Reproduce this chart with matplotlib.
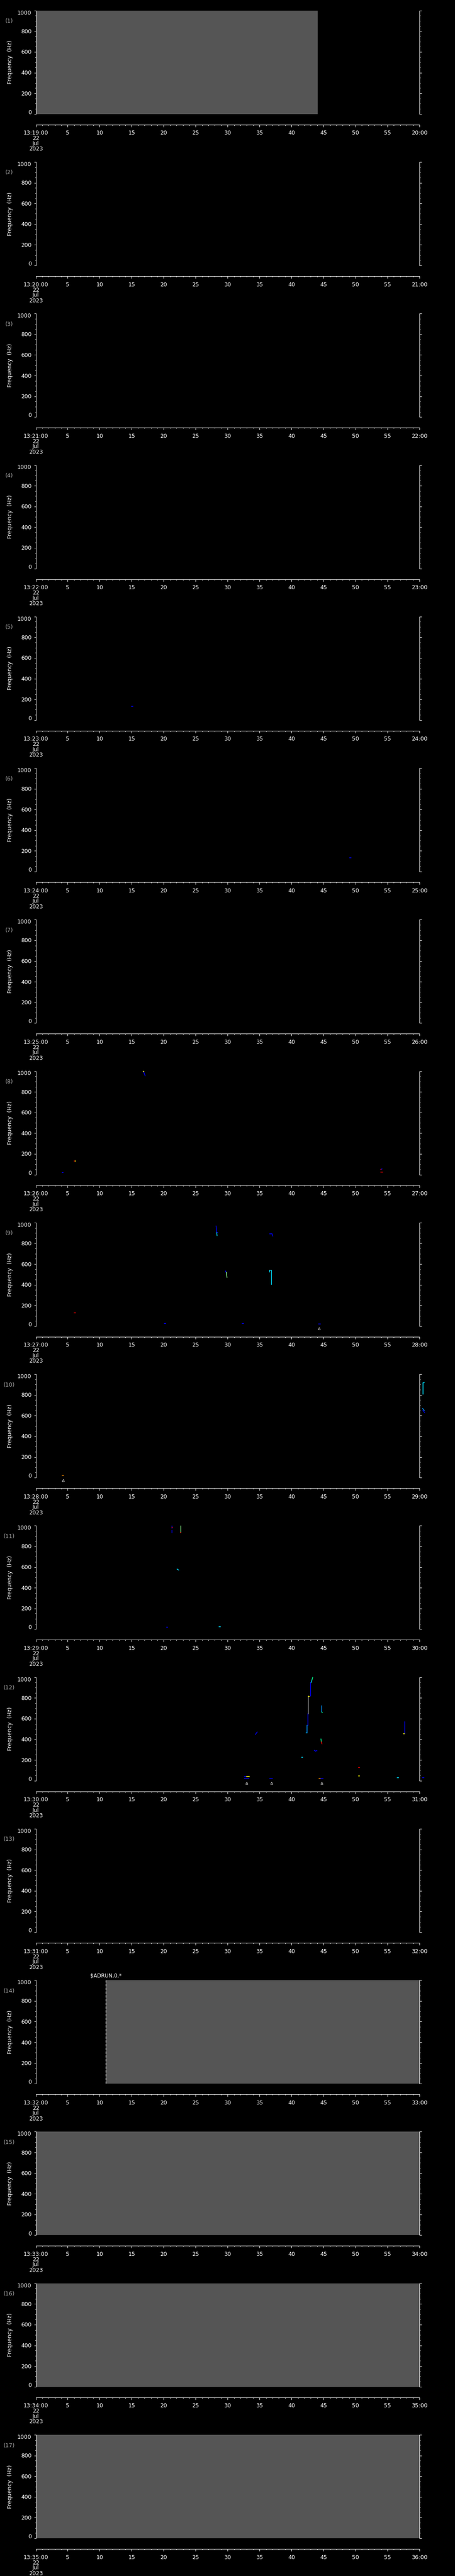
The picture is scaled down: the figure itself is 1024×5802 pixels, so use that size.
import matplotlib
matplotlib.use('Agg')
import matplotlib.pyplot as plt
from matplotlib.ticker import MultipleLocator, FixedLocator
from matplotlib.transforms import blended_transform_factory, ScaledTranslation

# ---------------- data ----------------
panel_start_labels = ["13:19:00", "13:20:00", "13:21:00", "13:22:00", "13:23:00", "13:24:00",
                      "13:25:00", "13:26:00", "13:27:00", "13:28:00", "13:29:00", "13:30:00",
                      "13:31:00", "13:32:00", "13:33:00", "13:34:00", "13:35:00"]
panel_end_labels = ["20:00", "21:00", "22:00", "23:00", "24:00", "25:00", "26:00", "27:00",
                    "28:00", "29:00", "30:00", "31:00", "32:00", "33:00", "34:00", "35:00", "36:00"]
date_lines = ["22", "Jul", "2023"]
time_major = [0, 5, 10, 15, 20, 25, 30, 35, 40, 45, 50, 55, 60]
time_mid_labels = ["5", "10", "15", "20", "25", "30", "35", "40", "45", "50", "55"]
freq_ticks = [0, 200, 400, 600, 800, 1000]
freq_labels = ["0", "200", "400", "600", "800", "1000"]

# grey "no data" spans
gap_panel = [1, 14, 15, 16, 17]
gap_t0 = [0.0, 10.94, 0.0, 0.0, 0.0]
gap_t1 = [44.1, 60.0, 60.0, 60.0, 60.0]

# event marker
event_panel = 14
event_t = 10.94
event_label = "$ADRUN,0,*"

# triangle markers under the axis
tri_panel = [9, 10, 12, 12, 12]
tri_t = [44.33, 4.3, 32.97, 36.84, 44.69]

# spectrogram traces (panel, t0, f0, t1, f1, colour)
seg_panel = [5, 6,
             8, 8, 8, 8, 8, 8, 8, 8,
             9, 9, 9, 9, 9, 9, 9, 9, 9, 9, 9, 9, 9, 9,
             10, 10, 10, 10, 10,
             11, 11, 11, 11, 11, 11, 11, 11,
             12, 12, 12, 12, 12, 12, 12, 12, 12, 12, 12, 12, 12, 12, 12, 12, 12, 12,
             12, 12, 12, 12, 12, 12, 12, 12, 12, 12, 12, 12]
seg_t0 = [15.0, 49.1,
          16.85, 16.8, 6.0, 6.12, 4.1, 53.95, 54.05, 53.95,
          28.2, 28.3, 28.38, 36.55, 36.95, 29.67, 29.8, 36.6, 36.6, 36.85, 6.0, 20.1, 32.25, 44.2,
          60.55, 60.55, 60.5, 60.55, 4.15,
          21.33, 21.28, 21.33, 22.68, 22.6, 22.1, 20.45, 28.65,
          34.35, 42.28, 42.42, 42.56, 42.65, 42.65, 42.96, 43.05, 43.2, 44.72, 44.72, 44.6, 44.65, 43.56,
          43.75, 41.6, 50.5, 57.7, 57.5, 32.6, 33.0, 32.65, 36.6, 44.3, 44.6, 50.5, 56.5, 60.5]
seg_f0 = [132, 135,
          997, 999, 130, 130, 20, 50, 52, 24,
          968, 905, 905, 891, 891, 533, 520, 542, 542, 542, 127, 24, 24, 20,
          806, 916, 668, 650, 22,
          996, 985, 955, 996, 932, 581, 18, 23,
          447, 462, 462, 533, 648, 815, 819, 948, 975, 722, 664, 403, 375, 293,
          287, 225, 126, 569, 452, 40, 40, 19, 19, 19, 19, 46, 29, 29]
seg_t1 = [15.2, 49.3,
          17.1, 16.9, 6.12, 6.25, 4.25, 54.05, 54.15, 54.2,
          28.3, 28.35, 28.42, 36.95, 37.07, 29.75, 29.9, 36.75, 36.6, 36.85, 6.2, 20.3, 32.45, 44.5,
          60.55, 60.75, 60.75, 60.8, 4.35,
          21.33, 21.38, 21.33, 22.68, 22.7, 22.35, 20.6, 28.9,
          34.62, 42.42, 42.42, 42.56, 42.65, 42.79, 42.96, 43.2, 43.3, 44.72, 44.82, 44.65, 44.75, 43.75,
          43.97, 41.75, 50.65, 57.7, 57.65, 33.0, 33.4, 33.3, 37.0, 44.6, 44.9, 50.65, 56.75, 60.7]
seg_f1 = [132, 135,
          955, 997, 130, 130, 20, 52, 55, 24,
          905, 875, 905, 891, 870, 520, 471, 542, 522, 404, 127, 24, 24, 20,
          916, 920, 650, 630, 22,
          975, 985, 935, 935, 932, 571, 18, 23,
          470, 462, 533, 648, 819, 815, 948, 975, 998, 664, 660, 375, 356, 285,
          290, 225, 126, 455, 452, 40, 40, 19, 19, 19, 19, 46, 29, 29]
seg_color = ["blue", "blue",
             "blue", "yellow", "red", "yellow", "blue", "red", "blue", "red",
             "blue", "cyan", "blue", "blue", "blue", "blue", "lightgreen", "cyan", "cyan", "cyan", "red", "blue", "blue", "blue",
             "cyan", "cyan", "sky", "blue", "orange",
             "blue", "red", "blue", "lightgreen", "red", "cyan", "blue", "cyan",
             "blue", "cyan", "sky", "blue", "gray", "yellow", "blue", "cyan", "green", "sky", "green", "green", "red", "blue",
             "blue", "cyan", "red", "blue", "yellow", "blue", "yellow", "blue", "blue", "orange", "blue", "yellow", "cyan", "blue"]

palette = {"blue": "#0000ff", "sky": "#0090ff", "cyan": "#00e0ff", "green": "#00ff90",
           "lightgreen": "#90ff90", "yellow": "#ffff00", "orange": "#ff9000", "red": "#ff0000",
           "gray": "#8a8a8a"}

# ---------------- layout (pixels) ----------------
W, H, DPI = 1024, 5802, 100
N = 17
PERIOD = 341.27
TOP0 = 23.7
PH = 233.0
LEFT = 80.5
PW = 863.5
PX = 1.0 / DPI  # inches per pixel
PT = 72.0 / DPI  # points per pixel

plt.rcParams['font.family'] = ['DejaVu Sans']
fig = plt.figure(figsize=(W / DPI, H / DPI), dpi=DPI, facecolor='black')

for i in range(N):
    pnum = i + 1
    top = TOP0 + i * PERIOD
    ax = fig.add_axes([LEFT / W, 1 - (top + PH) / H, PW / W, PH / H])
    ax.set_facecolor('black')
    ax.set_xlim(0, 60)
    ax.set_ylim(0, 1000)
    ax.spines['top'].set_visible(False)
    for s in ['left', 'right', 'bottom']:
        ax.spines[s].set_color('white')
        ax.spines[s].set_linewidth(1.0 * PT)
    ax.spines['bottom'].set_position(('outward', 24 * PT))

    ax.yaxis.set_major_locator(FixedLocator(freq_ticks))
    ax.yaxis.set_minor_locator(MultipleLocator(50))
    ax.xaxis.set_major_locator(FixedLocator(time_major))
    ax.xaxis.set_minor_locator(MultipleLocator(1))
    ax.tick_params(axis='y', which='both', direction='out', left=True, right=True,
                   labelleft=False, labelright=False, colors='white', width=1.0 * PT)
    ax.tick_params(axis='y', which='major', length=4.5 * PT)
    ax.tick_params(axis='y', which='minor', length=2.5 * PT)
    ax.tick_params(axis='x', which='both', direction='out', bottom=True, top=False,
                   labelbottom=False, colors='white', width=1.0 * PT)
    ax.tick_params(axis='x', which='major', length=4.5 * PT)
    ax.tick_params(axis='x', which='minor', length=2.2 * PT)

    # grey spans
    for gp, g0, g1 in zip(gap_panel, gap_t0, gap_t1):
        if gp == pnum:
            ax.axvspan(g0, g1, color='#555555', lw=0, zorder=0.5)

    # traces
    for sp, t0, f0, t1, f1, c in zip(seg_panel, seg_t0, seg_f0, seg_t1, seg_f1, seg_color):
        if sp == pnum:
            ax.plot([t0, t1], [f0, f1], color=palette[c], lw=1.6 * PT,
                    solid_capstyle='projecting', clip_on=False, zorder=3)

    # event line
    if pnum == event_panel:
        ax.axvline(event_t, color='white', lw=1.3 * PT, ls=(0, (4, 2.5)), zorder=4)
        tr_e = ax.transData + ScaledTranslation(0, 3 * PX, fig.dpi_scale_trans)
        ax.text(event_t, 1000, event_label, transform=tr_e, ha='center', va='bottom',
                color='white', fontsize=8.5, clip_on=False)

    # triangles
    tr_tri = blended_transform_factory(ax.transData, ax.transAxes) + \
        ScaledTranslation(0, -5.5 * PX, fig.dpi_scale_trans)
    tts = [t for tp, t in zip(tri_panel, tri_t) if tp == pnum]
    if tts:
        ax.plot(tts, [0] * len(tts), transform=tr_tri, ls='none', marker='^',
                markersize=5 * PT, markerfacecolor='none', markeredgecolor='white',
                markeredgewidth=0.8 * PT, clip_on=False)

    # y tick labels
    ytr = blended_transform_factory(ax.transAxes, ax.transData)
    for f, lab in zip(freq_ticks, freq_labels):
        dy = 0.0
        if f == 1000:
            dy = -4.4
        elif f == 0:
            dy = 4.4
        tr = ytr + ScaledTranslation(-9.5 * PX, (dy - 4.5) * PX, fig.dpi_scale_trans)
        ax.text(0, f, lab, transform=tr, ha='right', va='baseline', color='white', fontsize=9)

    # x tick labels
    xtr = blended_transform_factory(ax.transData, ax.transAxes)
    xlabels = [panel_start_labels[i]] + time_mid_labels + [panel_end_labels[i]]
    for t, lab in zip(time_major, xlabels):
        tr = xtr + ScaledTranslation(0, -46.6 * PX, fig.dpi_scale_trans)
        ax.text(t, 0, lab, transform=tr, ha='center', va='baseline', color='white', fontsize=9)
    for k, dl in enumerate(date_lines):
        off = [58.6, 70.0, 82.6][k]
        tr = xtr + ScaledTranslation(0, -off * PX, fig.dpi_scale_trans)
        ax.text(0, 0, dl, transform=tr, ha='center', va='baseline', color='white', fontsize=9)

    # y axis title and panel number
    ax.text(-58.0 / PW, 0.5, "Frequency  (Hz)", transform=ax.transAxes, rotation=90,
            ha='center', va='center', color='white', fontsize=9)
    ax.text(-59.5 / PW, 1 - 24.0 / PH, "(%d)" % pnum, transform=ax.transAxes,
            ha='center', va='center', color='#aaaaaa', fontsize=9)

fig.savefig('out.png', dpi=DPI, facecolor='black')
